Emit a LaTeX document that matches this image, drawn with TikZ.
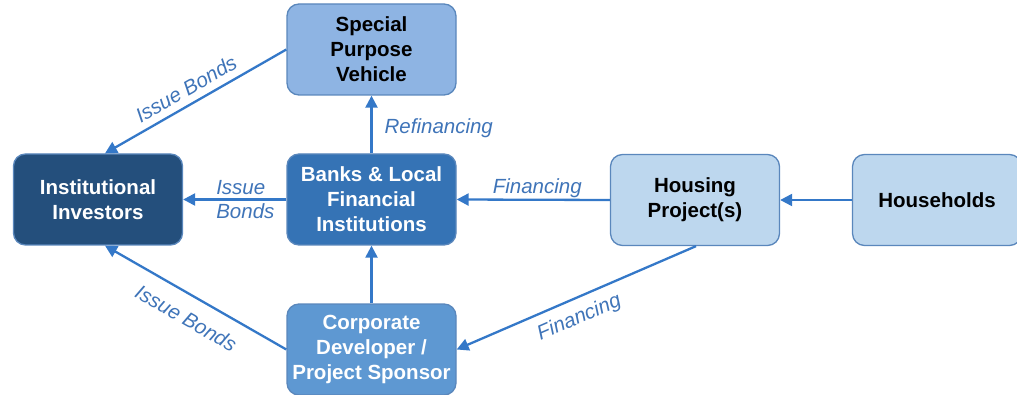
\documentclass[tikz,border=0pt]{standalone}
\usepackage{fontspec}
\setmainfont{Liberation Sans}
\usetikzlibrary{arrows.meta}
\definecolor{spvc}{HTML}{8EB4E3}
\definecolor{invc}{HTML}{244F7C}
\definecolor{bankc}{HTML}{3573B5}
\definecolor{corpc}{HTML}{5E98D2}
\definecolor{housec}{HTML}{BDD7EE}
\definecolor{boxline}{HTML}{5A87BC}
\definecolor{arrowc}{HTML}{3478C8}
\definecolor{labc}{HTML}{3F74B8}
\newcommand\diagboxfont{\bfseries\fontsize{20.5}{25}\selectfont}
\newcommand\diaglabfont{\itshape\fontsize{20.5}{24}\selectfont}
\begin{document}
\begin{tikzpicture}[x=1pt,y=-1pt,
  box/.style={draw=boxline, line width=1.3pt, rounded corners=12pt,
    minimum width=169pt, minimum height=91pt, align=center,
    font=\diagboxfont, inner sep=0pt},
  flow/.style={draw=arrowc, line width=2.3pt, -{Triangle[length=12pt,width=12pt]}},
  lab/.style={font=\diaglabfont, text=labc, inner sep=2pt}]
\useasboundingbox (0,0) rectangle (1017,395);
\node[box, fill=spvc, text=black] (spv) at (371.5,49.5) {Special\\Purpose\\Vehicle};
\node[box, fill=invc, text=white] (inv) at (98,199.5) {Institutional\\Investors};
\node[box, fill=bankc, text=white] (bank) at (371.5,199.5) {Banks \& Local\\Financial\\Institutions};
\node[box, fill=corpc, text=white] (corp) at (371.5,349.5) {Corporate\\Developer /\\Project Sponsor};
\node[box, fill=housec, text=black] (house) at (695,200) {Housing\\Project(s)};
\node[box, fill=housec, text=black] (hh) at (937,200) {Households};

\draw[flow] (spv.west) -- ([xshift=7pt]inv.north)
  node[lab, pos=0.51, sloped, above=5pt] {Issue Bonds};
\draw[flow] (bank.west) -- (inv.east)
  node[lab, pos=0.69, anchor=west, align=left, inner sep=0pt] {Issue\\Bonds};
\draw[flow] (corp.west) -- ([xshift=7pt]inv.south)
  node[lab, pos=0.49, sloped, below=12pt] {Issue Bonds};
\draw[flow] (bank.north) -- (spv.south)
  node[lab, midway, anchor=west, xshift=10pt, yshift=-4pt] {Refinancing};
\draw[flow] (house.west) -- (bank.east)
  node[lab, midway, xshift=4pt, yshift=12pt] {Financing};
\draw[flow] (hh.west) -- (house.east);
\draw[flow] (corp.north) -- (bank.south);
\draw[flow] ([xshift=1pt]house.south) -- (corp.east)
  node[lab, pos=0.52, sloped, below=7pt] {Financing};
\end{tikzpicture}
\end{document}
